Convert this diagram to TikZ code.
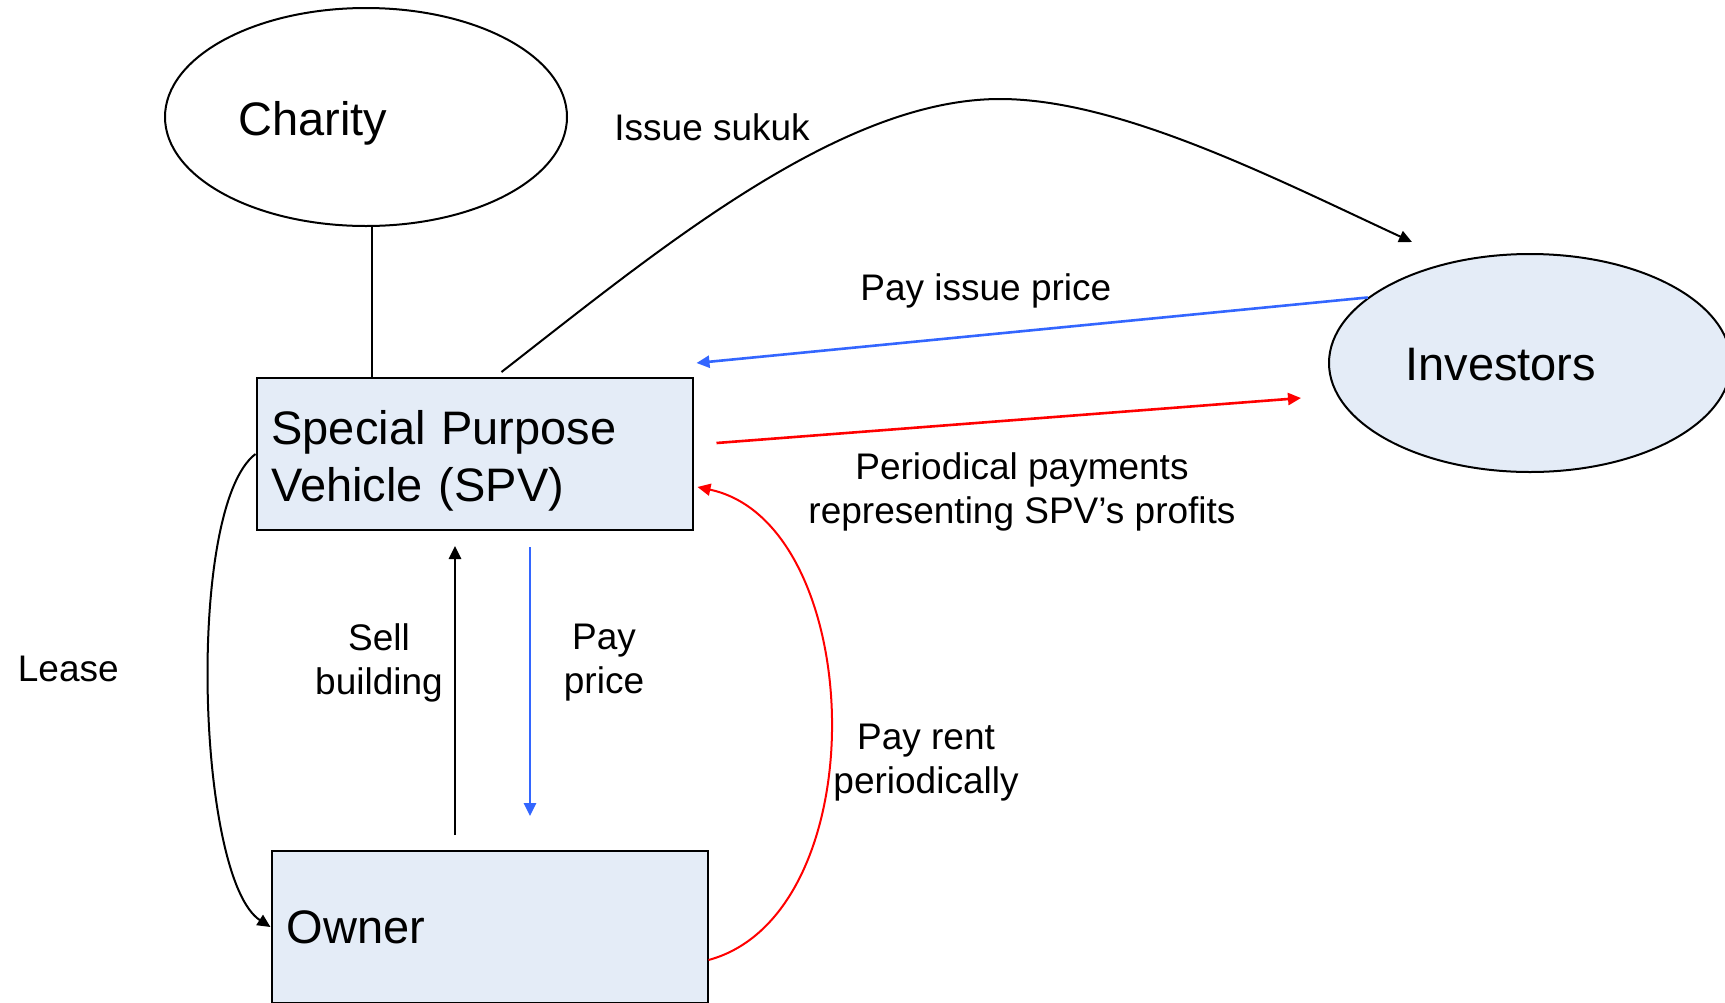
\documentclass[tikz,border=0pt]{standalone}
\usepackage{fontspec}
\setmainfont{Liberation Sans}
\usetikzlibrary{positioning,arrows.meta,shapes.geometric,calc}
\definecolor{boxfill}{HTML}{E4ECF7}
\definecolor{payblue}{HTML}{3366FF}
\definecolor{payred}{HTML}{FF0000}
\tikzset{
  party/.style={draw=black,line width=1pt,ellipse,minimum width=201pt,minimum height=109pt,inner sep=0pt},
  actor/.style={draw=black,line width=1pt,fill=boxfill,rectangle,minimum width=218pt,minimum height=76pt,
                text width=203pt,inner xsep=7.5pt,align=left,font=\fontsize{23.5}{28.5}\selectfont},
  big/.style={font=\fontsize{23.5}{28.5}\selectfont,inner sep=0pt},
  lbl/.style={font=\fontsize{18.5}{22}\selectfont,inner sep=0pt,align=center},
  flow/.style={-{Triangle[length=6.5pt,width=6pt]},line width=1.3pt},
  curvedflow/.style={flow,line width=1pt},
}
\begin{document}
\begin{tikzpicture}[x=0.5pt,y=0.5pt]
\useasboundingbox[fill=white] (0,0) rectangle (1725,-1002);

% ---- parties
\node[party] (charity) at (366,-117) {};
\node[big,anchor=base west] (charitytxt) at (238,-135) {Charity};
\node[party,fill=boxfill] (investors) at (1530,-363) {};
\node[big,anchor=base west] (investorstxt) at (1405,-380) {Investors};

% ---- boxes
\node[actor] (spv) at (474.5,-454) {\rule{0pt}{24pt}Special Purpose\\Vehicle (SPV)};
\node[actor] (owner) at (489.5,-927) {Owner};

% ---- links
\draw[line width=1pt] ($(charity.south)+(6,0)$) -- ($(charity.south |- spv.north)+(6,0)$);
\coordinate (top) at (1000,-99);
\draw[curvedflow] ($(spv.north west)+(246,5)$) .. controls +(158,123) and +(-160,0) .. (top)
  .. controls +(120,0) and +(-136,63) .. ($(investors.north)+(-118,11)$);
\draw[flow,payblue] (investors.158) -- ($(spv.north east)+(3,14)$);
\draw[flow,payred] ($(spv.east)+(23,11)$) -- ($(investors.west)+(-27,-35)$);
\draw[flow] ($(owner.north)+(-34.5,15)$) -- ($(spv.south)+(-19.5,-15)$);
\draw[flow,payblue] ($(spv.south)+(55.5,-16)$) -- ($(owner.north)+(40.5,34)$);
\draw[curvedflow,payred] ($(owner.east)+(0,-33)$) .. controls +(170,46) and +(170,-36) .. ($(spv.east)+(4,-33)$);
\draw[curvedflow] (spv.west) .. controls +(-70,-53) and +(-74,48) .. (owner.west);

% ---- labels
\node[lbl,anchor=base west] (sukuk) at (614,-140) {Issue sukuk};
\node[lbl,anchor=base west] (issueprice) at (860,-300) {Pay issue price};
\node[lbl] (profits) at (1022,-492) {Periodical payments\\representing SPV’s profits};
\node[lbl,anchor=base west] (lease) at (17.5,-681) {Lease};
\node[lbl] (sell) at (379,-663) {Sell\\building};
\node[lbl] (price) at (604,-663) {Pay\\price};
\node[lbl] (rent) at (926,-763) {Pay rent\\periodically};

\end{tikzpicture}
\end{document}
